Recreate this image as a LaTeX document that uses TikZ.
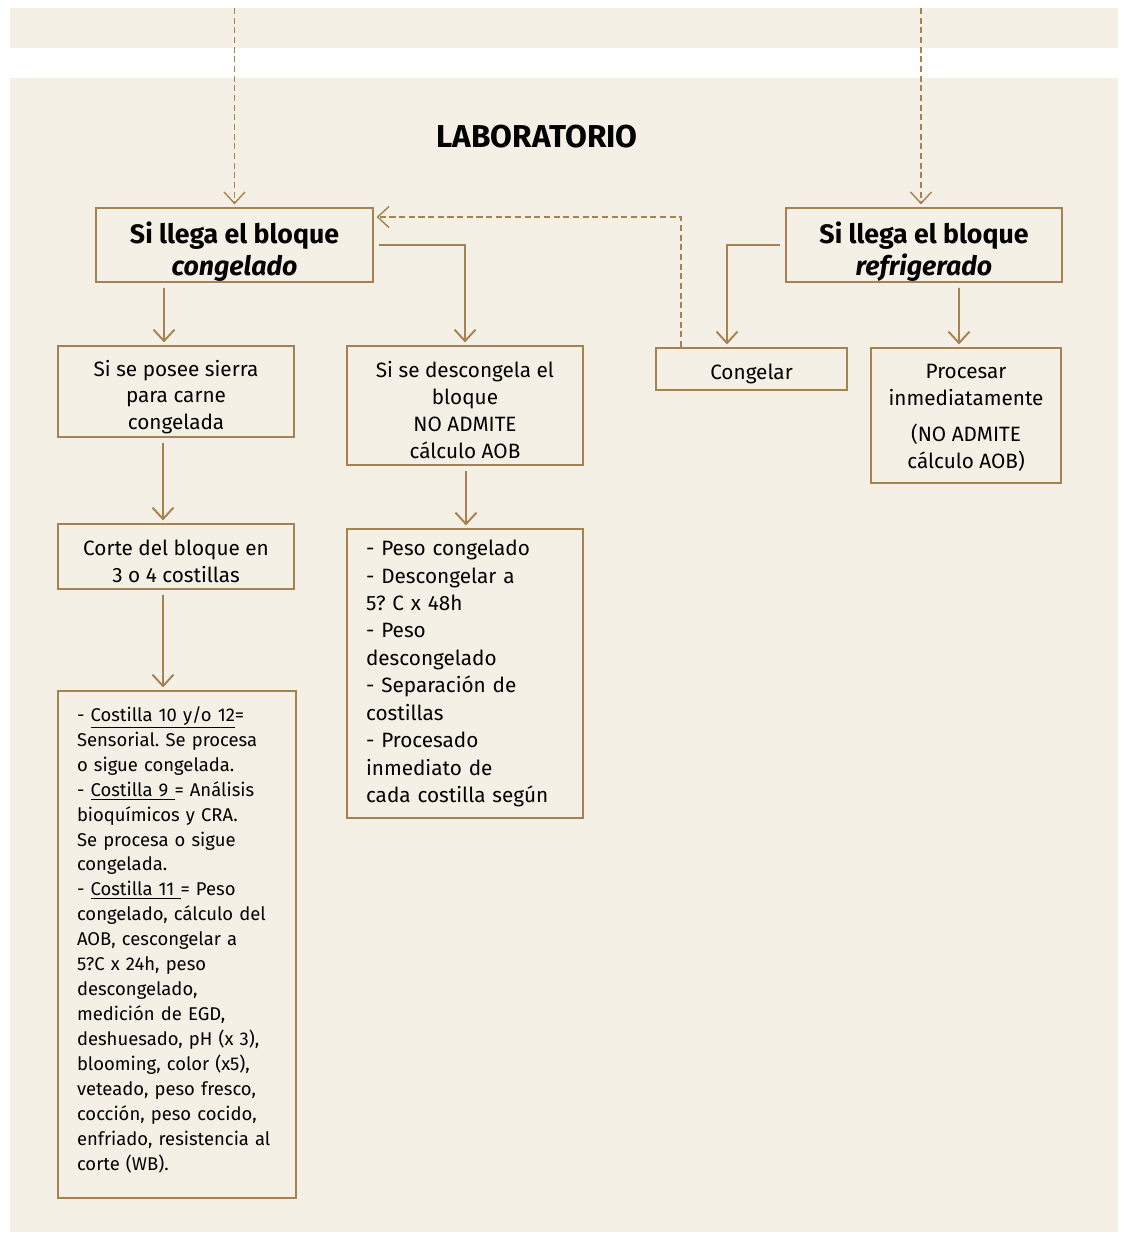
\documentclass[tikz,border=0pt]{standalone}
\usepackage{fontspec}
\setmainfont{Fira Sans}
\usepackage{tikz}
\usetikzlibrary{arrows.meta,positioning}
\definecolor{marron}{RGB}{166,130,80}
\definecolor{crema}{RGB}{245,240,229}
\frenchspacing
\newcommand{\alto}[1][14pt]{\rule{0pt}{#1}}
\tikzset{
  >={Straight Barb[length=6.5pt,width=12pt]},
  caja/.style={rectangle, draw=marron, line width=1.1pt, fill=crema, inner sep=0pt,
               align=center, font=\fontsize{11.8}{15.3}\selectfont},
  titulo/.style={caja, font=\bfseries\fontsize{15.2}{18.4}\selectfont},
  lista/.style={caja, align=left, inner xsep=0.38cm},
  flecha/.style={draw=marron, line width=1.1pt, ->, shorten <=2.8pt, shorten >=1.5pt},
  retorno/.style={draw=marron, line width=0.8pt, dash pattern=on 3.5pt off 2pt, ->, shorten >=1.5pt}
}

\begin{document}
\begin{tikzpicture}[x=0.02cm,y=-0.02cm]
\useasboundingbox (0,0) rectangle (1120,1234);
\fill[white] (0,0) rectangle (1120,1234);
\fill[crema] (10,8) rectangle (1118,48);
\fill[crema] (10,78) rectangle (1118,1232);
\node[font=\bfseries\fontsize{18}{21}\selectfont] (lab) at (537,137) {LABORATORIO};
% bloques de llegada
\node[titulo, minimum width=5.54cm, minimum height=1.48cm] (congelado) at (234.5,245)
  {\alto[20pt]Si llega el bloque\\ \itshape congelado};
\node[titulo, minimum width=5.52cm, minimum height=1.48cm] (refrig) at (924,245)
  {\alto[20pt]Si llega el bloque\\ \itshape refrigerado};
\coordinate (entradaA) at (234.5,8);
\coordinate (entradaB) at (921,8);
\draw[retorno] (entradaA) -- (congelado.north);
\draw[retorno] (entradaB) -- (entradaB |- refrig.north);
% segunda fila
\node[caja, minimum width=4.72cm, minimum height=1.82cm] (sierra) at (176,391.5)
  {\alto[15.5pt]Si se posee sierra\\para carne\\congelada};
\node[caja, minimum width=4.72cm, minimum height=2.38cm] (descong) at (465,405.5)
  {\alto Si se descongela el\\bloque\\NO ADMITE\\cálculo AOB};
\node[caja, minimum width=3.82cm, minimum height=0.84cm] (congelar) at (751.5,369) {\alto Congelar};
\node[caja, minimum width=3.8cm, minimum height=2.7cm] (procesar) at (966,415.5)
  {\alto[11pt]Procesar\\inmediatamente\\[0.18cm](NO ADMITE\\cálculo AOB)};
\draw[flecha] ([xshift=-1.41cm]congelado.south) -- ([xshift=-0.24cm]sierra.north);
\draw[flecha] (congelado.east) -| (descong.north);
\draw[flecha] (refrig.west) -| ([xshift=-0.49cm]congelar.north);
\draw[flecha] ([xshift=0.7cm]refrig.south) -- ([xshift=-0.14cm]procesar.north);
\draw[retorno] ([xshift=-1.41cm]congelar.north) |- ([yshift=0.56cm]congelado.east);
% tercera fila
\node[caja, minimum width=4.72cm, minimum height=1.3cm] (corte) at (176,556.5)
  {\alto Corte del bloque en\\3 o 4 costillas};
\node[lista, text width=3.96cm, minimum height=5.78cm, font=\fontsize{11.8}{15.6}\selectfont] (pasos) at (465,673.5)
  {- Peso congelado\\- Descongelar a\\5? C x 48h\\- Peso\\descongelado\\- Separación de\\costillas\\- Procesado\\inmediato de\\cada costilla según};
\node[lista, text width=4cm, minimum height=10.14cm, font=\fontsize{10.5}{14.2}\selectfont] (costillas) at (177,944.5)
  {- \underline{Costilla 10 y/o 12}=\\Sensorial. Se procesa\\o sigue congelada.\\- \underline{Costilla 9\ }= Análisis\\bioquímicos y CRA.\\Se procesa o sigue\\congelada.\\- \underline{Costilla 11\ }= Peso\\congelado, cálculo del\\AOB, cescongelar a\\5?C x 24h, peso\\descongelado,\\medición de EGD,\\deshuesado, pH (x 3),\\blooming, color (x5),\\veteado, peso fresco,\\cocción, peso cocido,\\enfriado, resistencia al\\corte (WB).\rule[-7pt]{0pt}{0pt}};
\draw[flecha] ([xshift=-0.26cm]sierra.south) -- ([xshift=-0.26cm]corte.north);
\draw[flecha] ([xshift=-0.26cm]corte.south) -- ([xshift=-0.28cm]costillas.north);
\draw[flecha] ([xshift=0.02cm]descong.south) -- ([xshift=0.02cm]pasos.north);
\end{tikzpicture}
\end{document}
